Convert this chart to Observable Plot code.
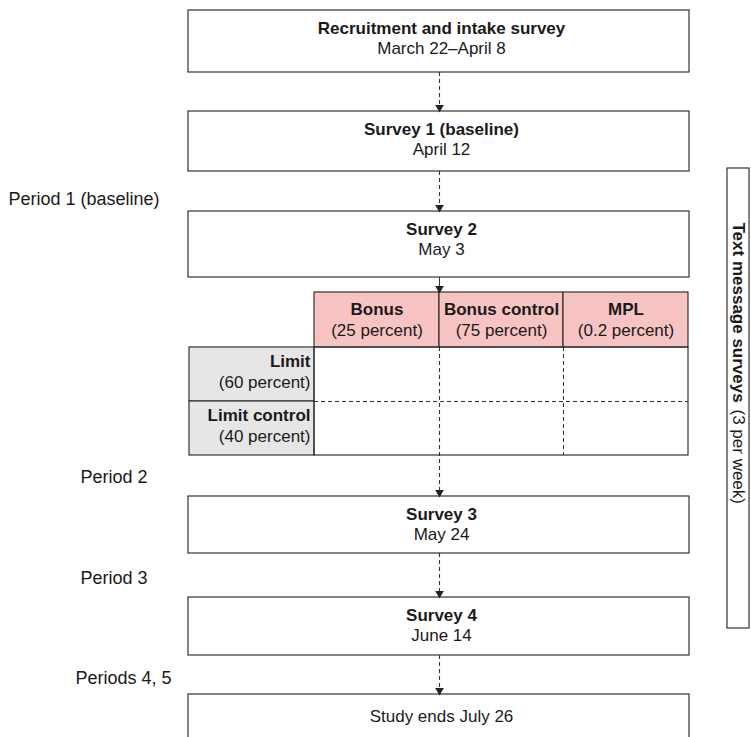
<!DOCTYPE html>
<html><head><meta charset="utf-8">
<script src="https://cdn.jsdelivr.net/npm/d3@7"></script>
<script src="https://cdn.jsdelivr.net/npm/@observablehq/plot@0.6"></script>
<style>body{margin:0;background:#fff}</style>
</head><body><div id="chart"></div>
<script>
// Flowchart content
const stageTitles = ['Recruitment and intake survey', 'Survey 1 (baseline)', 'Survey 2', 'Survey 3', 'Survey 4', ''];
const stageDates = ['March 22\u2013April 8', 'April 12', 'May 3', 'May 24', 'June 14', 'Study ends July 26'];
const bonusGroups = ['Bonus', 'Bonus control', 'MPL'];
const bonusShares = ['(25 percent)', '(75 percent)', '(0.2 percent)'];
const limitGroups = ['Limit', 'Limit control'];
const limitShares = ['(60 percent)', '(40 percent)'];
const periodLabels = ['Period 1 (baseline)', 'Period 2', 'Period 3', 'Periods 4, 5'];
const sideTitle = ['Text message surveys', '(3 per week)'];

// Layout (pixels)
const stageY = [[10, 72], [111, 171], [211, 277], [496, 553], [597, 655], [694, 760]];
const colX = [314, 439, 563, 688];
const rowY = [347, 401, 455];
const periodPos = [[8, 199], [80, 477], [80, 578], [75, 678]];
const ax = 439;
const fs = 17;
const font = "'Liberation Sans', Arial, sans-serif";

const stages = stageTitles.map((t, i) => ({t, d: stageDates[i], y1: stageY[i][0], y2: stageY[i][1]}));
const header = bonusGroups.map((g, i) => ({g, s: bonusShares[i], x1: colX[i], x2: colX[i + 1]}));
const rows = limitGroups.map((g, i) => ({g, s: limitShares[i], y1: rowY[i], y2: rowY[i + 1]}));
const periods = periodLabels.map((p, i) => ({p, x: periodPos[i][0], y: periodPos[i][1]}));
const arrows = [
  {y1: 72, y2: 111, dash: true}, {y1: 171, y2: 211, dash: true},
  {y1: 277, y2: 292, dash: false}, {y1: 347, y2: 496, dash: true},
  {y1: 553, y2: 597, dash: true}, {y1: 655, y2: 694, dash: true}
];

const chart = Plot.plot({
  width: 751, height: 737, margin: 0,
  x: {domain: [0, 751], axis: null},
  y: {domain: [0, 737], reverse: true, axis: null},
  style: {fontFamily: font, background: '#fff', color: '#1a1a1a'},
  marks: [
    Plot.rect(stages, {x1: 188, x2: 689, y1: 'y1', y2: 'y2', fill: '#fff', stroke: '#333', strokeWidth: 1.2}),
    Plot.text(stages, {x: ax + 2, y: d => d.t ? d.y1 + 18 : d.y1 + 22, text: 't', fontWeight: 'bold', fontSize: fs, fill: '#1a1a1a'}),
    Plot.text(stages, {x: ax + 2, y: d => d.t ? d.y1 + 38 : d.y1 + 22, text: 'd', fontSize: fs, fill: '#1a1a1a'}),
    // grid
    Plot.rect(header, {x1: 'x1', x2: 'x2', y1: 292, y2: 347, fill: '#f7c3c3', stroke: '#333', strokeWidth: 1.2}),
    Plot.text(header, {x: d => (d.x1 + d.x2) / 2, y: 309, text: 'g', fontWeight: 'bold', fontSize: fs}),
    Plot.text(header, {x: d => (d.x1 + d.x2) / 2, y: 330, text: 's', fontSize: fs}),
    Plot.rect(rows, {x1: 189, x2: 314, y1: 'y1', y2: 'y2', fill: '#e6e6e6', stroke: '#333', strokeWidth: 1.2}),
    Plot.text(rows, {x: 310, y: d => d.y1 + 14, text: 'g', textAnchor: 'end', fontWeight: 'bold', fontSize: fs}),
    Plot.text(rows, {x: 310, y: d => d.y1 + 35, text: 's', textAnchor: 'end', fontSize: fs}),
    Plot.rect([0], {x1: 314, x2: 688, y1: 347, y2: 455, stroke: '#333', strokeWidth: 1.2}),
    Plot.ruleY([401], {x1: 314, x2: 688, stroke: '#333', strokeDasharray: '4,3'}),
    Plot.ruleX([563], {y1: 347, y2: 455, stroke: '#333', strokeDasharray: '4,3'}),
    // arrows
    Plot.ruleX(arrows.filter(d => d.dash), {x: ax, y1: 'y1', y2: d => d.y2 - 4, stroke: '#333', strokeWidth: 1.1, strokeDasharray: '4,3'}),
    Plot.ruleX(arrows.filter(d => !d.dash), {x: ax, y1: 'y1', y2: d => d.y2 - 4, stroke: '#333', strokeWidth: 1.1}),
    Plot.dot(arrows, {x: ax, y: d => d.y2 - 4, symbol: 'triangle', r: 3.2, rotate: 180, fill: '#222', stroke: 'none'}),
    // periods
    Plot.text(periods, {x: 'x', y: 'y', text: 'p', textAnchor: 'start', fontSize: 18}),
    // side box
    Plot.rect([0], {x1: 727, x2: 749, y1: 168, y2: 628, stroke: '#333', strokeWidth: 1.2, fill: '#fff'}),
    Plot.text([sideTitle[0]], {x: 738, y: 222, text: d => d, rotate: 90, textAnchor: 'start', fontWeight: 'bold', fontSize: fs}),
    Plot.text([sideTitle[1]], {x: 738, y: 409, text: d => d, rotate: 90, textAnchor: 'start', fontSize: fs})
  ]
});
document.getElementById('chart').appendChild(chart);
</script></body></html>
